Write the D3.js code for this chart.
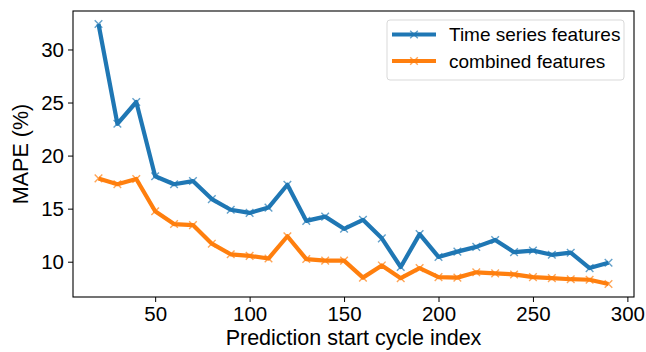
<!DOCTYPE html>
<html>
<head>
<meta charset="utf-8">
<script src="https://cdn.jsdelivr.net/npm/d3@7"></script>
<style>
  html, body { margin: 0; padding: 0; background: #fff; }
  svg { display: block; font-family: "Liberation Sans", Arial, sans-serif; }
</style>
</head>
<body>
<svg id="chart" width="646" height="352"></svg>
<script>
// Prediction start cycle index
const cycles = [20, 30, 40, 50, 60, 70, 80, 90, 100, 110, 120, 130, 140, 150,
                160, 170, 180, 190, 200, 210, 220, 230, 240, 250, 260, 270, 280, 290];
// MAPE (%) using time series features only
const timeSeries = [32.4, 23.0, 25.05, 18.05, 17.3, 17.6, 15.9, 14.9, 14.6, 15.1,
                    17.25, 13.85, 14.25, 13.1, 13.95, 12.2, 9.5, 12.6, 10.45, 10.95,
                    11.4, 12.05, 10.9, 11.05, 10.65, 10.85, 9.4, 9.9];
// MAPE (%) using combined features
const combined = [17.85, 17.3, 17.8, 14.75, 13.55, 13.45, 11.7, 10.7, 10.55, 10.3,
                  12.4, 10.25, 10.1, 10.1, 8.5, 9.65, 8.45, 9.4, 8.55, 8.5,
                  9.0, 8.9, 8.8, 8.55, 8.45, 8.35, 8.3, 7.9];
const xTicks = [50, 100, 150, 200, 250, 300];
const yTicks = [10, 15, 20, 25, 30];
const seriesNames = ["Time series features", "combined features"];
const seriesColors = ["#1f77b4", "#ff7f0e"];

const svg = d3.select("#chart");
const plotL = 73, plotR = 634, plotT = 11, plotB = 297;

// Axis limits padded by 5% of the data range on each side
function padded(lo, hi) { const p = (hi - lo) * 0.05; return [lo - p, hi + p]; }
const xDom = padded(d3.min(cycles), d3.max(cycles));
const allY = timeSeries.concat(combined);
const yDom = padded(d3.min(allY), d3.max(allY));

const x = d3.scaleLinear().domain(xDom).range([plotL, plotR]);
const y = d3.scaleLinear().domain(yDom).range([plotB, plotT]);

// Axes
const xAxis = svg.append("g")
  .attr("transform", `translate(0,${plotB})`)
  .call(d3.axisBottom(x).tickValues(xTicks).tickSize(5).tickPadding(4).tickSizeOuter(0));
const yAxis = svg.append("g")
  .attr("transform", `translate(${plotL},0)`)
  .call(d3.axisLeft(y).tickValues(yTicks).tickSize(5).tickPadding(4).tickSizeOuter(0));
[xAxis, yAxis].forEach(g => {
  g.select(".domain").remove();
  g.selectAll("line").attr("stroke", "#000").attr("stroke-width", 1);
  g.selectAll("text").attr("fill", "#000").style("font-size", "20.5px")
    .style("font-family", "'Liberation Sans', Arial, sans-serif");
});

// Frame
svg.append("rect")
  .attr("x", plotL).attr("y", plotT)
  .attr("width", plotR - plotL).attr("height", plotB - plotT)
  .attr("fill", "none").attr("stroke", "#000").attr("stroke-width", 1.1);

// Series
const line = d3.line().x((d, i) => x(cycles[i])).y(d => y(d));
const series = [timeSeries, combined];
series.forEach((vals, k) => {
  const col = seriesColors[k];
  svg.append("path").datum(vals)
    .attr("d", line)
    .attr("fill", "none")
    .attr("stroke", col)
    .attr("stroke-width", 4.2)
    .attr("stroke-linejoin", "round");
  const m = 3.8;
  svg.append("g").selectAll("path")
    .data(vals)
    .join("path")
    .attr("d", (d, i) => {
      const cx = x(cycles[i]), cy = y(d);
      return `M${cx - m},${cy - m}L${cx + m},${cy + m}M${cx - m},${cy + m}L${cx + m},${cy - m}`;
    })
    .attr("stroke", col)
    .attr("stroke-opacity", 0.7)
    .attr("stroke-width", 1.4)
    .attr("fill", "none");
});

// Axis titles
svg.append("text")
  .attr("x", (plotL + plotR) / 2).attr("y", 345)
  .attr("text-anchor", "middle")
  .style("font-size", "21.5px")
  .text("Prediction start cycle index");
svg.append("text")
  .attr("transform", `translate(28,${(plotT + plotB) / 2}) rotate(-90)`)
  .attr("text-anchor", "middle")
  .style("font-size", "21.5px")
  .text("MAPE (%)");

// Legend
const lg = svg.append("g");
lg.append("rect")
  .attr("x", 387).attr("y", 20).attr("width", 237).attr("height", 60)
  .attr("rx", 3).attr("fill", "#fff").attr("fill-opacity", 0.8)
  .attr("stroke", "#d9d9d9").attr("stroke-width", 1);
seriesNames.forEach((name, k) => {
  const ly = 34.5 + k * 26.5;
  lg.append("line")
    .attr("x1", 392).attr("x2", 436).attr("y1", ly).attr("y2", ly)
    .attr("stroke", seriesColors[k]).attr("stroke-width", 4.2);
  const m = 3.8, cx = 414;
  lg.append("path")
    .attr("d", `M${cx - m},${ly - m}L${cx + m},${ly + m}M${cx - m},${ly + m}L${cx + m},${ly - m}`)
    .attr("stroke", seriesColors[k]).attr("stroke-opacity", 0.7)
    .attr("stroke-width", 1.4);
  lg.append("text")
    .attr("x", 449).attr("y", ly + 6.5)
    .style("font-size", "19px")
    .text(name);
});
</script>
</body>
</html>
